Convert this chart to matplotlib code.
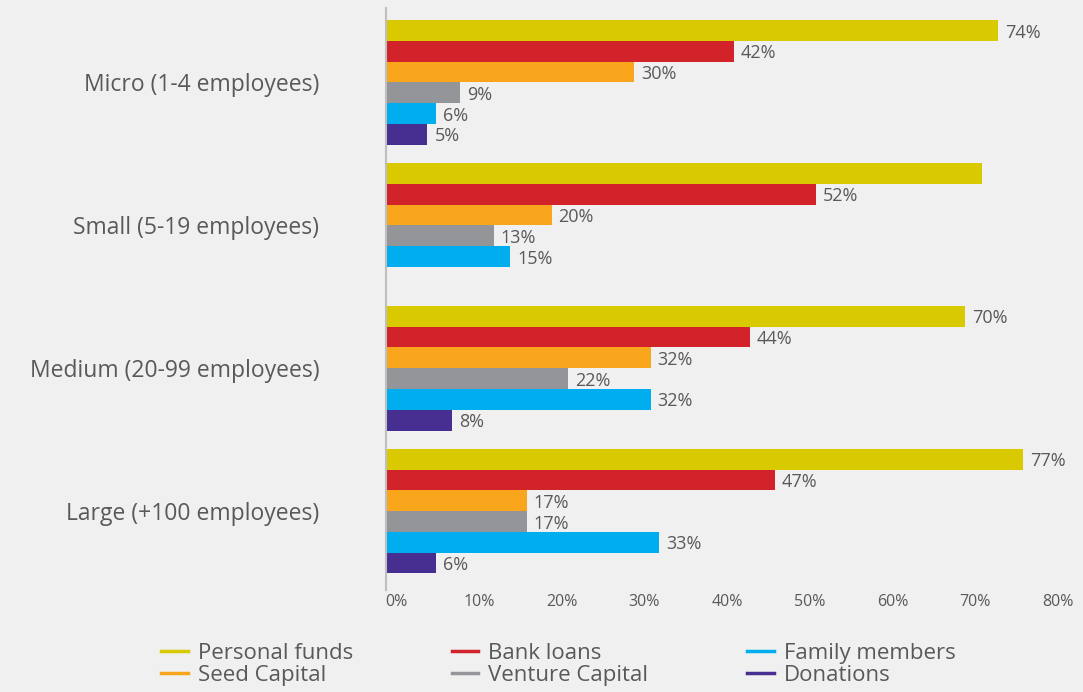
import numpy as np
import matplotlib.pyplot as plt
import matplotlib.transforms as mtransforms

plt.rcParams['font.family'] = ['Open Sans', 'DejaVu Sans']

# Data
categories = ['Micro (1-4 employees)', 'Small (5-19 employees)',
              'Medium (20-99 employees)', 'Large (+100 employees)']
series = ['Personal funds', 'Bank loans', 'Seed Capital',
          'Venture Capital', 'Family members', 'Donations']
personal_funds = [74, 72, 70, 77]
bank_loans = [42, 52, 44, 47]
seed_capital = [30, 20, 32, 17]
venture_capital = [9, 13, 22, 17]
family_members = [6, 15, 32, 33]
donations = [5, None, 8, 6]
# the Small / Personal funds bar carries no label in the source
unlabelled = [('Personal funds', 1)]

values = [personal_funds, bank_loans, seed_capital,
          venture_capital, family_members, donations]
colors = ['#D9C900', '#D2232A', '#F9A61C', '#939598', '#00AEEF', '#472F92']

bg = '#F0F0F0'
txt = '#595959'

fig = plt.figure(figsize=(10.83, 6.92), dpi=100, facecolor=bg)
ax = fig.add_axes([386 / 1083, 1 - 590 / 692, (1048 - 386) / 1083, 582 / 692])
ax.set_facecolor(bg)

# layout in bar units
bar_h = 1.0
group_step = 6.875
top_pad = 0.58
n_ser = len(series)

for j, (name, vals, c) in enumerate(zip(series, values, colors)):
    ys = []
    xs = []
    for i, v in enumerate(vals):
        if v is None:
            continue
        ys.append(top_pad + i * group_step + j * bar_h + bar_h / 2)
        xs.append(v)
    ax.barh(ys, xs, height=bar_h, color=c, label=name, linewidth=0)
    k = 0
    for i, v in enumerate(vals):
        if v is None:
            continue
        if (name, i) not in unlabelled:
            ax.annotate(f'{v}%', (v, ys[k]), xytext=(5, -1.5),
                        textcoords='offset points', ha='left', va='center',
                        fontsize=13, color=txt)
        k += 1

ax.set_ylim(28, 0)
ax.set_xlim(0, 80)

centers = [top_pad + i * group_step + n_ser * bar_h / 2 for i in range(len(categories))]
ax.set_yticks(centers)
ax.set_yticklabels(categories, fontsize=16.5, color=txt)
ax.tick_params(axis='y', length=0, pad=48)

ax.set_xticks(np.arange(0, 81, 10))
ax.set_xticklabels([f'{t}%' for t in range(0, 81, 10)], fontsize=11.5, color=txt)
ax.tick_params(axis='x', length=0, pad=3)
shift = mtransforms.ScaledTranslation(10 / 100, 0, fig.dpi_scale_trans)
for lab in ax.get_xticklabels():
    lab.set_transform(lab.get_transform() + shift)

for s in ['top', 'right', 'bottom']:
    ax.spines[s].set_visible(False)
ax.spines['left'].set_color('#BFBFBF')
ax.spines['left'].set_linewidth(1.5)

# legend with line handles, two rows
handles = [plt.Line2D([], [], color=c, lw=2.5) for c in colors]
order = [0, 2, 1, 3, 4, 5]
leg = fig.legend([handles[i] for i in order], [series[i] for i in order],
                 ncol=3, loc='upper left', bbox_to_anchor=(161 / 1083, 1 - 643 / 692),
                 frameon=False, fontsize=16, handlelength=1.2, handletextpad=0.45,
                 columnspacing=4.45, labelspacing=0.05, borderpad=0, borderaxespad=0)
for t in leg.get_texts():
    t.set_color(txt)

fig.savefig('out.png', dpi=100, facecolor=bg)
